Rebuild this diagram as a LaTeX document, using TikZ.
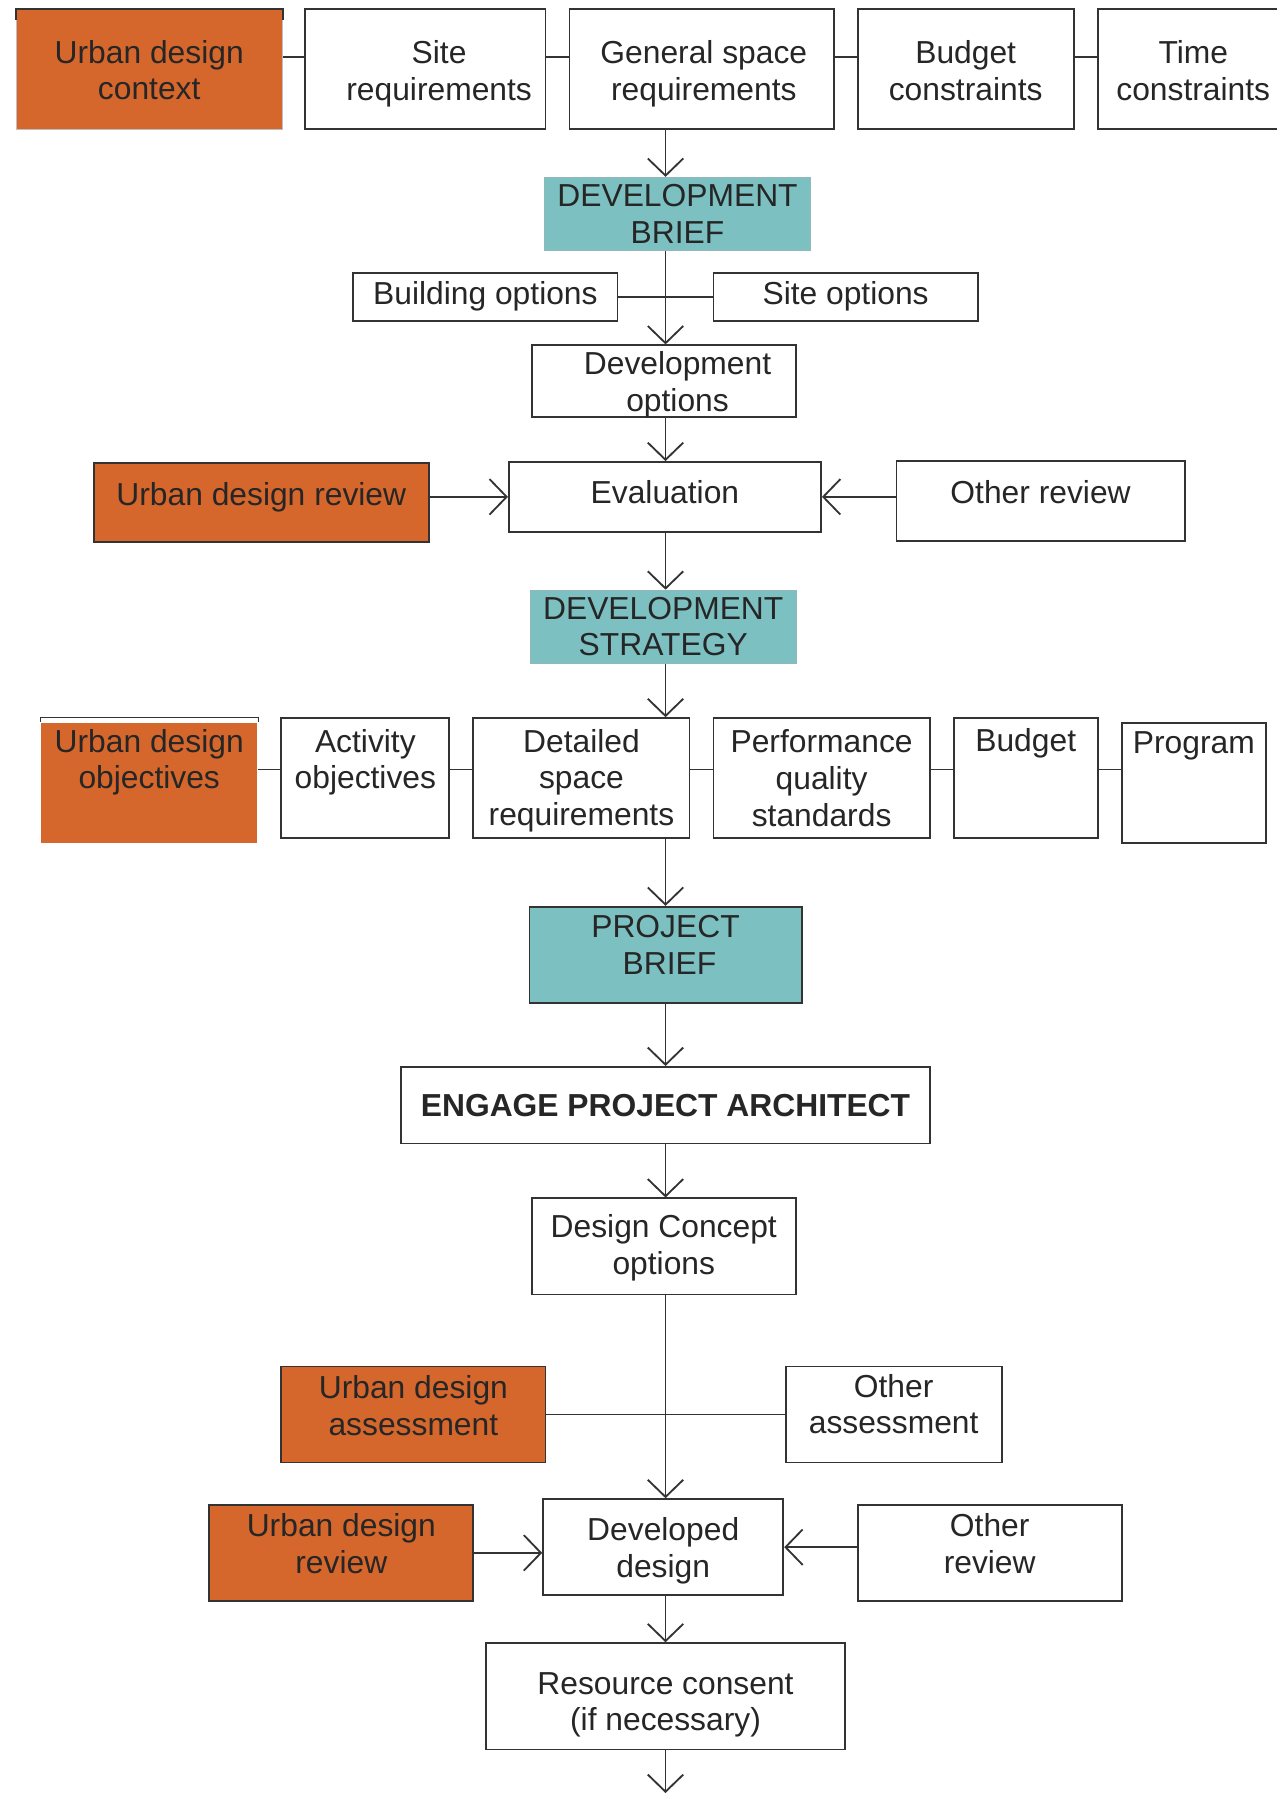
\documentclass[tikz,border=0pt]{standalone}
\usepackage{fontspec}
\setmainfont{Liberation Sans}
\usetikzlibrary{fit,arrows.meta}
\definecolor{orng}{HTML}{D5672D}
\definecolor{tealb}{HTML}{7CC0C2}
\definecolor{ink}{HTML}{262626}
\definecolor{lcol}{HTML}{333333}
\begin{document}
\begin{tikzpicture}[x=1pt,y=-1pt,
  line/.style={draw=lcol, line width=1.6pt},
  arr/.style={draw=lcol, line width=1.6pt, -{Straight Barb[length=15pt,width=31pt]}},
  box/.style={draw=lcol, line width=1.6pt, fill=white, inner sep=0pt},
  obox/.style={draw=lcol, line width=1.6pt, fill=orng, inner sep=0pt},
  tbox/.style={draw=tealb!80!black!70, line width=0.6pt, fill=tealb, inner sep=0pt},
  txt/.style={font=\fontsize{27.8}{32}\selectfont, text=ink, align=center, inner sep=0pt}
]
\useasboundingbox (0,0) rectangle (1116,1568);
\coordinate (ax) at (582,0);

% top row
\node[obox, draw=gray!50, line width=0.6pt, fit={(14,8)(247,113)}, label={[txt,yshift=-1pt]center:{Urban design\\context}}] (uc) {};
\draw[line] ([yshift=-10pt]uc.north west) -- (uc.north west) -- (uc.north east) -- ([yshift=-10pt]uc.north east);
\node[box, fit={(267,8)(477,113)}, label={[txt,xshift=12pt,yshift=-4pt]center:{Site\\requirements}}] (site) {};
\node[box, fit={(498,8)(729,113)}, label={[txt,xshift=2pt,yshift=-4pt]center:{General space\\requirements}}] (gsr) {};
\node[box, fit={(750,8)(939,113)}, label={[txt,yshift=-1.5pt]center:{Budget\\constraints}}] (bc) {};
\node[box, fit={(960,8)(1127,113)}, label={[txt,yshift=-1.5pt]center:{Time\\constraints}}] (tc) {};
\draw[line] ([yshift=10.5pt]uc.east) -- ([yshift=10.5pt]site.west);
\draw[line] ([yshift=10.5pt]site.east) -- ([yshift=10.5pt]gsr.west);
\draw[line] ([yshift=10.5pt]gsr.east) -- ([yshift=10.5pt]bc.west);
\draw[line] ([yshift=10.5pt]bc.east) -- ([yshift=10.5pt]tc.west);

% development brief
\node[tbox, fit={(476,155)(709,219)}, label={[txt]center:{DEVELOPMENT\\BRIEF}}] (db) {};
\node[box, fit={(309,239)(540,281)}, label={[txt,yshift=1pt]center:{Building options}}] (bo) {};
\node[box, fit={(624,239)(855,281)}, label={[txt,yshift=1pt]center:{Site options}}] (so) {};
\node[box, fit={(465,302)(696,365)}, label={[txt,xshift=12pt,yshift=-3pt]center:{Development\\options}}] (dopt) {};
\draw[arr] (gsr.south -| ax) -- (db.north -| ax);
\draw[line] (bo.east) -- (so.west);
\draw[arr] (db.south -| ax) -- (dopt.north -| ax);

% evaluation
\node[box, fit={(445,404)(718,465)}, label={[txt,yshift=4pt]center:{Evaluation}}] (eval) {};
\node[obox, fit={(82,405)(375,474)}, label={[txt,yshift=5pt]center:{Urban design review}}] (udr) {};
\node[box, fit={(784,403)(1036,473)}, label={[txt,yshift=8pt]center:{Other review}}] (orv) {};
\draw[arr] (dopt.south -| ax) -- (eval.north -| ax);
\draw[arr] (udr.east |- eval.west) -- (eval.west);
\draw[arr] (orv.west |- eval.east) -- (eval.east);

% development strategy
\node[tbox, fit={(464,516)(696,580)}, label={[txt]center:{DEVELOPMENT\\STRATEGY}}] (ds) {};
\draw[arr] (eval.south -| ax) -- (ds.north -| ax);

% third row
\node[obox, draw=none, fit={(36,632)(225,737)}, label={[txt,yshift=18pt]center:{Urban design\\objectives}}] (udo) {};
\draw[draw=lcol, line width=0.8pt] (udo.north west) -- ([yshift=4pt]udo.north west) -- ([yshift=4pt]udo.north east) -- (udo.north east);
\node[box, fit={(246,628)(393,733)}, label={[txt,yshift=14pt]center:{Activity\\objectives}}] (act) {};
\node[box, fit={(414,628)(603,733)}, label={[txt,yshift=-2pt]center:{Detailed\\space\\requirements}}] (det) {};
\node[box, fit={(624,628)(813,733)}, label={[txt]center:{Performance\\quality\\standards}}] (pqs) {};
\node[box, fit={(834,628)(960,733)}, label={[txt,yshift=30.5pt]center:{Budget}}] (bud) {};
\node[box, fit={(981,632)(1107,737)}, label={[txt,yshift=32.5pt]center:{Program}}] (prog) {};
\draw[arr] (ds.south -| ax) -- (det.north -| ax);
\draw[line] ([yshift=7.5pt]act.west -| udo.east) -- ([yshift=7.5pt]act.west);
\draw[line] ([yshift=7.5pt]act.east) -- ([yshift=7.5pt]det.west);
\draw[line] ([yshift=7.5pt]det.east) -- ([yshift=7.5pt]pqs.west);
\draw[line] ([yshift=7.5pt]pqs.east) -- ([yshift=7.5pt]bud.west);
\draw[line] ([yshift=7.5pt]bud.east) -- ([yshift=7.5pt]bud.east -| prog.west);

% project brief and architect
\node[tbox, draw=lcol, line width=1.6pt, fit={(463,793)(701,877)}, label={[txt,yshift=8.5pt]center:{PROJECT\\\hspace*{7pt}BRIEF}}] (pb) {};
\node[box, fit={(351,933)(813,1000)}, label={[txt,font=\fontsize{27.8}{32}\selectfont\bfseries]center:{ENGAGE PROJECT ARCHITECT}}] (eng) {};
\node[box, fit={(465,1048)(696,1132)}, label={[txt,yshift=-1pt]center:{Design Concept\\options}}] (dco) {};
\draw[arr] (det.south -| ax) -- (pb.north -| ax);
\draw[arr] (pb.south -| ax) -- (eng.north -| ax);
\draw[arr] (eng.south -| ax) -- (dco.north -| ax);

% assessment
\node[obox, fit={(246,1195)(477,1279)}, label={[txt,yshift=8pt]center:{Urban design\\assessment}}] (uda) {};
\node[box, fit={(687,1195)(876,1279)}, label={[txt,yshift=9pt]center:{Other\\assessment}}] (oa) {};
\node[box, fit={(475,1311)(685,1395)}, label={[txt,yshift=-3pt]center:{Developed\\design}}] (dd) {};
\node[obox, fit={(183,1316)(414,1400)}, label={[txt,yshift=8pt]center:{Urban design\\review}}] (udr2) {};
\node[box, fit={(750,1316)(981,1400)}, label={[txt,yshift=8pt]center:{Other\\review}}] (or2) {};
\draw[line] (uda.east) -- (oa.west);
\draw[arr] (dco.south -| ax) -- (dd.north -| ax);
\draw[arr] (udr2.east) -- (udr2.east -| dd.west);
\draw[arr] (or2.west |- dd.east) -- (dd.east);

% resource consent
\node[box, fit={(425,1437)(739,1530)}, label={[txt,yshift=-7.5pt]center:{Resource consent\\(if necessary)}}] (rc) {};
\coordinate (endpt) at (582,1568);
\draw[arr] (dd.south -| ax) -- (rc.north -| ax);
\draw[arr] (rc.south -| ax) -- (endpt);
\end{tikzpicture}
\end{document}
